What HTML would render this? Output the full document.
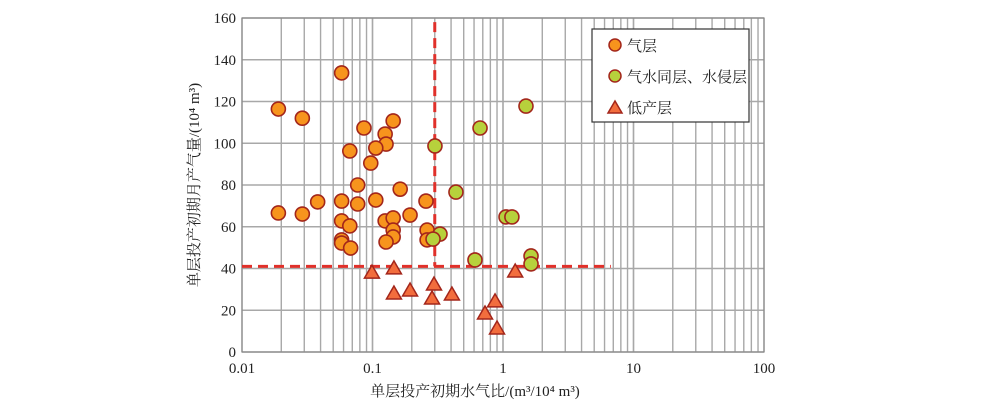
<!DOCTYPE html>
<html><head><meta charset="utf-8"><style>
html,body{margin:0;padding:0;background:#fff;}
svg{display:block;font-family:"Liberation Serif","Noto Serif CJK SC",serif;}
</style></head><body>
<svg id="chart" width="1000" height="411" viewBox="0 0 1000 411">
<g id="grid"></g>
<g id="refs"></g>
<g id="marks"></g>
<g id="ticks"></g>
<text x="475" y="396" text-anchor="middle" font-size="15" fill="#222">单层投产初期水气比/(m³/10⁴ m³)</text>
<text transform="translate(199,185) rotate(-90)" text-anchor="middle" font-size="15" fill="#222">单层投产初期月产气量/(10⁴ m³)</text>
<g>
<rect x="592" y="29" width="157" height="93" fill="#fff" stroke="#333" stroke-width="1.2"/>
<g><circle cx="615" cy="45" r="6" fill="#f7941d" stroke="#a3261b" stroke-width="1.5"/><text x="627" y="51" font-size="15" fill="#222">气层</text></g>
<g><circle cx="615" cy="76" r="6" fill="#b7d13c" stroke="#a3261b" stroke-width="1.5"/><text x="627" y="82" font-size="15" fill="#222">气水同层、水侵层</text></g>
<g><polygon points="615,101 622,113 608,113" fill="#f26d3d" stroke="#a3261b" stroke-width="1.5"/><text x="627" y="113" font-size="15" fill="#222">低产层</text></g>
</g>
</svg>
<script>
const gasX=[0.019,0.029,0.058,0.086,0.125,0.127,0.144,0.106,0.067,0.097,0.077,0.163,0.019,0.029,0.038,0.058,0.077,0.106,0.257,0.194,0.125,0.144,0.058,0.067,0.144,0.144,0.127,0.058,0.058,0.068,0.262,0.262];
const gasY=[116.4,112,133.7,107.3,104.4,99.6,110.7,97.7,96.3,90.5,80,78,66.6,66.1,71.9,72.3,70.9,72.8,72.3,65.6,62.8,64.2,62.8,60.4,58.4,55.1,52.7,53.7,52.2,49.8,58.4,53.7];
const waterX=[0.301,0.436,0.329,0.291,0.667,1.5,1.055,1.17,0.61,1.64,1.64];
const waterY=[98.7,76.6,56.5,54.1,107.3,117.8,64.7,64.7,44.1,46,42.2];
const lowX=[0.099,0.146,0.146,0.194,0.296,0.286,0.406,0.728,0.869,0.9,1.24];
const lowY=[37.8,39.8,27.8,29.2,32.1,25.4,27.3,18.2,24,11,38.3];
const yTicks=[0,20,40,60,80,100,120,140,160];
const xTicks=[0.01,0.1,1,10,100];
const xTickLabels=["0.01","0.1","1","10","100"];
const thresholdX=0.3, thresholdY=41, hLineEndX=6.7;

const L=242,R=764,T=18,B=352;
const sx=v=>L+(Math.log10(v)+2)/4*(R-L);
const sy=v=>B-v/160*(B-T);
const NS="http://www.w3.org/2000/svg";
function mk(tag,attrs,parent){const e=document.createElementNS(NS,tag);for(const k in attrs)e.setAttribute(k,attrs[k]);parent.appendChild(e);return e;}
const grid=document.getElementById('grid'),marks=document.getElementById('marks'),ticks=document.getElementById('ticks'),refs=document.getElementById('refs');
for(let d=-2;d<2;d++)for(let m=1;m<=10;m++){const v=m*Math.pow(10,d);const x=sx(v);
 const l=mk('line',{x1:x,x2:x,y1:T,y2:B,stroke:'#a8a8a8','stroke-width':1.4},grid);
 
 }
yTicks.forEach(v=>{const y=sy(v);
 const l=mk('line',{x1:L,x2:R,y1:y,y2:y,stroke:'#a8a8a8','stroke-width':1.4},grid);
 
 
 const t=mk('text',{x:L-6,y:y+5,'text-anchor':'end','font-size':15,fill:'#222'},ticks);t.textContent=v;
 
 });
xTicks.forEach((v,i)=>{const t=mk('text',{x:sx(v),y:373,'text-anchor':'middle','font-size':15,fill:'#222'},ticks);t.textContent=xTickLabels[i];
 
 });
const ax=mk('rect',{x:L,y:T,width:R-L,height:B-T,fill:'none',stroke:'#888','stroke-width':1.2},grid);


const hl=mk('line',{x1:sx(0.01),x2:sx(hLineEndX),y1:sy(thresholdY),y2:sy(thresholdY),stroke:'#e0302a','stroke-width':3,'stroke-dasharray':'10,6'},refs);


const vl=mk('line',{x1:sx(thresholdX),x2:sx(thresholdX),y1:sy(158),y2:sy(thresholdY),stroke:'#e0302a','stroke-width':3,'stroke-dasharray':'10,6'},refs);


gasX.forEach((v,i)=>{const c=mk('circle',{cx:sx(v),cy:sy(gasY[i]),r:7,fill:'#f7941d',stroke:'#a3261b','stroke-width':1.6},marks);
 
 });
waterX.forEach((v,i)=>{const c=mk('circle',{cx:sx(v),cy:sy(waterY[i]),r:7,fill:'#b7d13c',stroke:'#a3261b','stroke-width':1.6},marks);
 
 });
lowX.forEach((v,i)=>{const x=sx(v),y=sy(lowY[i]);const p=mk('polygon',{points:`${x},${y-8} ${x+7.5},${y+5} ${x-7.5},${y+5}`,fill:'#f26d3d',stroke:'#a3261b','stroke-width':1.5},marks);
 
 });
</script>
</body></html>
